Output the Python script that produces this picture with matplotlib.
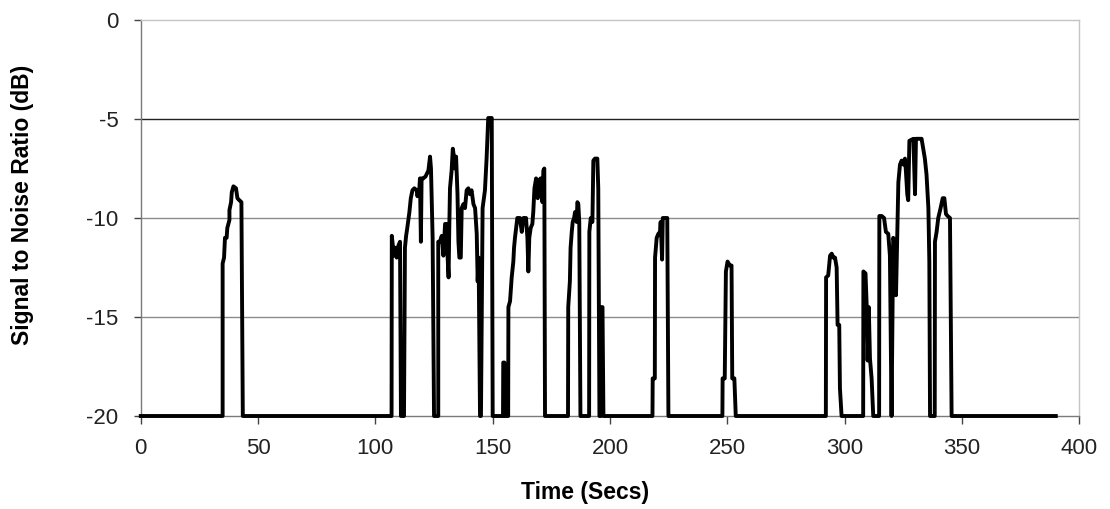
import matplotlib
matplotlib.use("Agg")
import matplotlib.pyplot as plt

plt.rcParams['font.family'] = ['Liberation Sans', 'DejaVu Sans']
plt.rcParams['axes.unicode_minus'] = False

# SNR trace (time in s, SNR in dB)
time_s = [
    0, 34.9, 34.9, 35.5, 35.9, 36.6, 36.9, 37.8, 37.8, 38.5, 38.8, 39.5, 40.6, 41.2, 42.0, 42.9, 43.5,
    106.9, 107.0, 107.9, 108.4, 109.1, 109.8, 110.5, 110.9, 112.2, 112.6, 113.1, 113.6, 114.5, 115.1,
    115.8, 116.6, 117.6, 117.9, 118.7, 119.0, 119.4, 119.7, 120.4, 121.4, 122.6, 123.3, 123.7, 124.0,
    124.4, 125.0, 126.8, 126.8, 127.5, 128.3, 129.0, 129.7, 130.4, 130.8, 131.2, 131.5, 131.8, 132.5,
    133.0, 133.5, 134.0, 134.4, 135.0, 135.4, 135.8, 136.4, 136.8, 137.5, 138.2, 138.9, 139.6, 140.3,
    141.0, 141.8, 142.5, 143.2, 143.6, 144.0, 144.6, 145.0, 145.7, 146.7, 147.4, 148.1, 149.6, 150.0,
    154.4, 154.5, 155.0, 155.2, 156.6, 156.7, 157.4, 158.1, 158.8, 159.1, 159.5, 160.2, 160.5, 161.6,
    162.4, 163.1, 164.2, 164.8, 165.2, 165.6, 166.2, 166.9, 167.3, 167.8, 168.5, 169.2, 169.9, 170.4,
    171.2, 171.6, 172.0, 172.3,
    182.1, 182.2, 182.9, 183.2, 183.7, 184.1, 184.7, 185.1, 185.8, 186.1, 186.5, 186.9, 187.4,
    191.1, 191.2, 191.8, 192.5, 192.9, 193.6, 194.6, 195.0, 195.5, 196.1, 196.2, 196.8, 197.2,
    218.1, 218.2, 219.1, 219.2, 219.9, 220.6, 221.3, 221.6, 222.2, 222.5, 224.4, 224.9,
    247.9, 248.0, 248.9, 249.4, 250.1, 251.1, 251.8, 252.1, 253.0, 253.6,
    292.0, 292.1, 293.0, 293.8, 294.5, 295.2, 295.9, 296.6, 297.0, 297.7, 298.0, 298.7,
    307.9, 308.0, 308.9, 309.4, 309.8, 310.3, 310.8, 311.5, 312.2,
    314.7, 314.8, 315.8, 316.8, 317.6, 318.6, 319.3, 320.0, 320.7, 321.5, 321.9, 322.4, 322.9, 323.6,
    324.3, 325.0, 325.7, 326.1, 326.7, 327.1, 327.6, 329.3, 330.0, 330.4, 332.8, 333.5, 334.2, 334.9,
    335.7, 336.1, 336.4,
    338.4, 338.5, 339.2, 339.9, 340.9, 341.8, 342.5, 343.2, 343.9, 344.9, 345.6, 390.0,
]
snr_db = [
    -20, -20, -12.3, -12.0, -11.0, -11.0, -10.5, -10.1, -9.6, -9.2, -8.7, -8.4, -8.5, -9.0, -9.1, -9.2, -20,
    -20, -10.9, -11.9, -11.5, -12.0, -11.4, -11.2, -20, -20, -11.5, -10.9, -10.5, -9.7, -9.0,
    -8.6, -8.5, -8.6, -8.9, -8.6, -8.0, -11.2, -8.0, -8.0, -7.9, -7.6, -6.9, -7.5, -9.0,
    -11.0, -20, -20, -11.2, -11.2, -10.9, -11.9, -10.3, -10.3, -12.0, -13.0, -10.5, -8.5, -7.6,
    -6.5, -6.9, -7.5, -6.9, -8.8, -11.2, -12.0, -12.0, -9.5, -9.3, -9.5, -8.6, -8.5, -8.8,
    -8.6, -9.3, -9.5, -10.8, -13.2, -12.0, -20, -20, -9.5, -8.6, -7.0, -4.95, -4.95, -20,
    -20, -17.3, -17.3, -20, -20, -14.5, -14.2, -13.0, -12.2, -11.5, -11.0, -10.3, -10.0, -10.0,
    -10.7, -10.0, -10.0, -11.0, -12.7, -11.0, -10.5, -10.3, -9.7, -8.5, -8.0, -9.0, -8.1, -8.0,
    -9.2, -7.6, -7.5, -20,
    -20, -14.5, -13.2, -11.5, -10.7, -10.2, -10.0, -9.7, -10.2, -9.2, -9.3, -10.2, -20,
    -20, -10.7, -10.0, -10.2, -7.1, -7.0, -7.0, -8.5, -20, -20, -14.5, -14.5, -20,
    -20, -18.1, -18.1, -12.0, -11.0, -10.8, -10.7, -10.2, -12.1, -10.0, -10.0, -20,
    -20, -18.1, -18.1, -12.7, -12.2, -12.4, -12.4, -18.1, -18.1, -20,
    -20, -13.0, -12.9, -11.9, -11.8, -12.0, -12.0, -12.5, -15.4, -15.4, -18.6, -20,
    -20, -12.7, -12.8, -14.4, -17.2, -14.5, -17.1, -18.1, -20,
    -20, -9.9, -9.9, -10.0, -10.7, -10.8, -11.9, -20, -11.0, -11.2, -13.9, -11.0, -8.2, -7.3,
    -7.1, -7.3, -7.0, -7.6, -8.8, -9.1, -6.1, -6.0, -8.8, -6.0, -6.0, -6.5, -7.0, -7.8,
    -9.5, -12.2, -20,
    -20, -11.2, -10.7, -10.0, -9.5, -9.0, -9.0, -9.8, -9.9, -10.0, -20, -20,
]

x_ticks = [0, 50, 100, 150, 200, 250, 300, 350, 400]
y_ticks = [-20, -15, -10, -5, 0]

fig = plt.figure(figsize=(11.10, 5.09), dpi=100)
ax = fig.add_axes([0.1268, 0.1827, 0.8455, 0.778])

ax.set_xlim(0, 400)
ax.set_ylim(-20, 0)
ax.set_xticks(x_ticks)
ax.set_yticks(y_ticks)

for v in y_ticks[1:-1]:
    ax.axhline(v, color='#222222' if v == -5 else '#8c8c8c', lw=1.0, zorder=1)

ax.plot(time_s, snr_db, color='black', lw=2.8, solid_joinstyle='round',
        clip_on=False, zorder=3)

for side in ['left', 'bottom']:
    ax.spines[side].set_color('#7a7a7a')
    ax.spines[side].set_linewidth(1.0)
for side in ['top', 'right']:
    ax.spines[side].set_color('#c4c4c4')
    ax.spines[side].set_linewidth(1.0)

ax.tick_params(axis='y', direction='out', length=5, width=1, color='#444444',
               labelsize=16, pad=11, labelcolor='#222222')
ax.tick_params(axis='x', direction='out', length=6, width=1, color='#444444',
               labelsize=16, pad=10, labelcolor='#222222')

fig.text(585 / 1110, 1 - 493 / 509, 'Time (Secs)', ha='center', va='center',
         fontsize=16.5, fontweight='bold')
fig.text(23 / 1110, 1 - 205 / 509, 'Signal to Noise Ratio (dB)', ha='center', va='center',
         rotation=90, fontsize=16.5, fontweight='bold')

fig.savefig('out.png', dpi=100)
